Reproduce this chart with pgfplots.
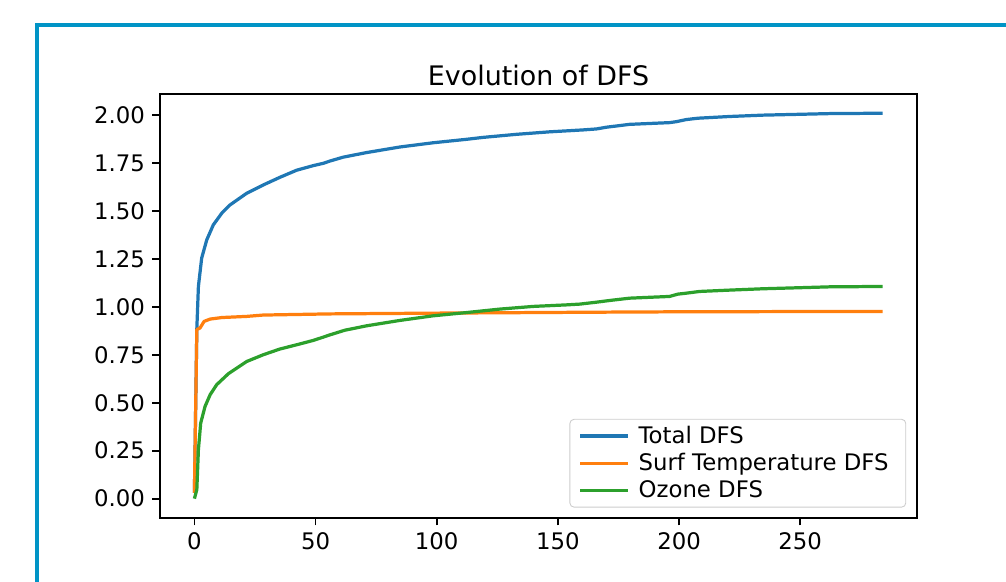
\documentclass[border=0pt]{standalone}
\usepackage{fontspec}
\setmainfont{DejaVu Sans}
\usepackage{pgfplots}
\pgfplotsset{compat=1.18}
\definecolor{mplblue}{HTML}{1F77B4}
\definecolor{mplorange}{HTML}{FF7F0E}
\definecolor{mplgreen}{HTML}{2CA02C}
\definecolor{framecol}{RGB}{0,148,198}
\newcommand{\tickfont}{\fontsize{10.6}{12.7}\selectfont}
\begin{document}
\begin{tikzpicture}
\useasboundingbox (0,0) rectangle (467.8pt,270.6pt);
\draw[line width=1.86pt, framecol] (17.2pt,-2pt) -- (17.2pt,259.0pt) -- (470pt,259.0pt);
\begin{axis}[
  at={(74.4pt,29.76pt)}, anchor=south west,
  scale only axis, width=352pt, height=197.2pt,
  xmin=-14.2, xmax=298.2, ymin=-0.1005, ymax=2.11,
  xtick={0,50,100,150,200,250},
  ytick={0,0.25,0.5,0.75,1,1.25,1.5,1.75,2},
  yticklabel style={/pgf/number format/.cd, fixed, fixed zerofill, precision=2},
  /pgf/number format/assume math mode=true,
  tick align=outside, tick pos=left,
  major tick length=3.5pt,
  every tick/.style={black, line width=0.8pt},
  axis line style={line width=0.8pt},
  tick label style={font=\tickfont},
  title={Evolution of DFS},
  title style={at={(0.5,1)}, anchor=base, yshift=-2.3pt, font=\fontsize{12.5}{15}\selectfont},
  legend style={at={(1,0)}, anchor=south east, xshift=-5pt, yshift=4.8pt,
    draw=black!20, rounded corners=2pt, font=\tickfont,
    inner xsep=4pt, inner ysep=1pt, row sep=-0.8pt, cells={anchor=west},
    nodes={inner xsep=4pt}},
  legend image code/.code={\draw[#1] (0pt,0pt) -- (22.5pt,0pt);},
  every axis plot/.append style={line width=1.5pt, line join=round},
]
\addplot[mplblue] coordinates {
(0,0.03) (1,0.885) (1.65,1.106) (3,1.254) (5.1,1.349) (7.8,1.427) (11.3,1.488) (14.7,1.531) (21.6,1.592) (28.4,1.635) (35.3,1.675) (42.2,1.712) (49.1,1.736) (53.2,1.748) (56,1.760) (61.4,1.780) (71.1,1.804) (84.8,1.833) (98.5,1.855) (112.3,1.873) (119.1,1.883) (132.9,1.899) (146.6,1.912) (160.4,1.922) (165.9,1.927) (170,1.936) (179.6,1.951) (196.1,1.960) (198.9,1.965) (203,1.976) (207.8,1.983) (220.9,1.992) (234.6,1.999) (248.4,2.003) (262.1,2.007) (284,2.009)
};
\addlegendentry{Total DFS}
\addplot[mplorange] coordinates {
(0,0.03) (1,0.882) (2.3,0.889) (4,0.924) (6.5,0.936) (11.3,0.944) (21.6,0.950) (28.4,0.957) (55.9,0.963) (100,0.967) (167,0.972) (200,0.974) (284,0.976)
};
\addlegendentry{Surf Temperature DFS}
\addplot[mplgreen] coordinates {
(0,0.0) (1,0.047) (1.65,0.255) (2.6,0.394) (4.4,0.481) (6.5,0.542) (9.2,0.594) (14,0.651) (21.6,0.715) (28.4,0.750) (35.3,0.780) (42.2,0.802) (49.1,0.825) (53.2,0.842) (56,0.854) (62.1,0.878) (71.1,0.901) (84.8,0.929) (98.5,0.953) (112.3,0.970) (126,0.988) (139.8,1.002) (153.5,1.010) (159,1.014) (165.9,1.024) (171.4,1.033) (179.6,1.045) (196.1,1.054) (199.5,1.066) (203,1.071) (208.5,1.080) (220.9,1.087) (234.6,1.094) (248.4,1.099) (262.1,1.104) (284,1.106)
};
\addlegendentry{Ozone DFS}
\end{axis}
\end{tikzpicture}
\end{document}
